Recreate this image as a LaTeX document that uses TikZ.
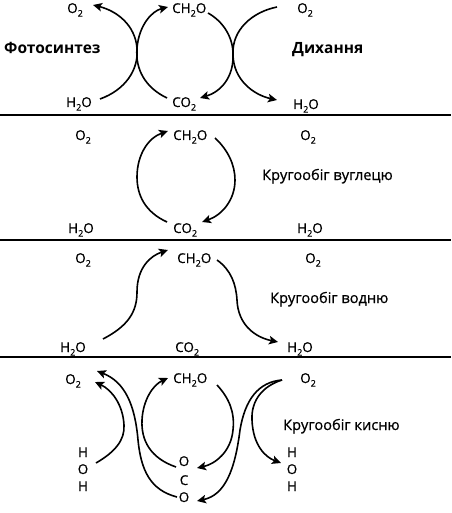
\documentclass[tikz,border=0pt]{standalone}
\usepackage{fontspec}
\setmainfont{Open Sans}
\newfontfamily\semib[FakeBold=0.7]{Open Sans}
\usetikzlibrary{arrows.meta}
\newcommand{\sbs}[1]{\raisebox{-0.5ex}{\fontsize{9}{9}\selectfont #1}}
\tikzset{
  chem/.style={anchor=base west, inner sep=0pt, font=\semib\fontsize{13.5}{14}\selectfont},
  lbl/.style={anchor=base west, inner sep=0pt, font=\semib\fontsize{14.6}{15}\selectfont},
  blbl/.style={anchor=base west, inner sep=0pt, font=\fontsize{15.5}{16}\selectfont\bfseries},
  stk/.style={anchor=base, inner sep=0pt, font=\semib\fontsize{13.5}{14}\selectfont},
  arr/.style={line width=1.6pt, -{Stealth[length=9pt,width=8.5pt,inset=2pt]}},
  sep/.style={line width=2.4pt}
}
\begin{document}
\begin{tikzpicture}[x=1pt,y=-1pt]
\useasboundingbox (0,0) rectangle (451,513);
% separators
\draw[sep] (0,115) -- (451,115);
\draw[sep] (0,240) -- (451,240);
\draw[sep] (0,357) -- (451,357);

% ---------- panel 1 ----------
\node[chem] (o2a) at (67,13) {O\sbs{2}};
\node[chem] (ch2oa) at (172,13) {CH\sbs{2}O};
\node[chem] (o2b) at (297,13) {O\sbs{2}};
\node[blbl] (foto) at (4,54) {Фотосинтез};
\node[blbl] (dykh) at (292,54) {Дихання};
\node[chem] (h2oa) at (66,107) {H\sbs{2}O};
\node[chem] (co2a) at (172,107) {CO\sbs{2}};
\node[chem] (h2ob) at (293,109) {H\sbs{2}O};
\coordinate (p1a) at (100,99);  \coordinate (p1b) at (93,5);
\coordinate (p1c) at (167,98);  \coordinate (p1d) at (168,7);
\coordinate (p1e) at (277,7);   \coordinate (p1f) at (200,98);
\coordinate (p1g) at (208,13);  \coordinate (p1h) at (277,100);
\draw[arr] (p1a) .. controls (125,90) and (139,70) .. (137,48) .. controls (135,25) and (117,11) .. (p1b);
\draw[arr] (p1c) .. controls (146,88) and (135,70) .. (137,48) .. controls (139,25) and (152,11) .. (p1d);
\draw[arr] (p1e) .. controls (252,12) and (232,30) .. (233,54) .. controls (234,78) and (220,92) .. (p1f);
\draw[arr] (p1g) .. controls (224,22) and (233,38) .. (233,54) .. controls (233,80) and (254,95) .. (p1h);

% ---------- panel 2 ----------
\node[chem] (o2c) at (75,140) {O\sbs{2}};
\node[chem] (ch2ob) at (173,140) {CH\sbs{2}O};
\node[chem] (o2d) at (300,140) {O\sbs{2}};
\node[lbl] (carb) at (262,180) {Кругообіг вуглецю};
\node[chem] (h2oc) at (68,233) {H\sbs{2}O};
\node[chem] (co2b) at (173,233) {CO\sbs{2}};
\node[chem] (h2od) at (297,233) {H\sbs{2}O};
\coordinate (p2a) at (167,222); \coordinate (p2b) at (168,131);
\coordinate (p2c) at (215,138); \coordinate (p2d) at (202,222);
\draw[arr] (p2a) .. controls (145,212) and (137,195) .. (137,177) .. controls (137,155) and (148,138) .. (p2b);
\draw[arr] (p2c) .. controls (228,150) and (235,165) .. (235,180) .. controls (235,200) and (222,215) .. (p2d);

% ---------- panel 3 ----------
\node[chem] (o2e) at (75,263) {O\sbs{2}};
\node[chem] (ch2oc) at (177,263) {CH\sbs{2}O};
\node[chem] (o2f) at (305,263) {O\sbs{2}};
\node[lbl] (hydr) at (270,303) {Кругообіг водню};
\node[chem] (h2oe) at (60,352) {H\sbs{2}O};
\node[chem] (co2c) at (175,352) {CO\sbs{2}};
\node[chem] (h2of) at (287,352) {H\sbs{2}O};
\coordinate (p3a) at (103,339); \coordinate (p3b) at (168,250);
\coordinate (p3c) at (217,260); \coordinate (p3d) at (278,342);
\draw[arr] (p3a) .. controls (128,326) and (137,312) .. (137,292) .. controls (137,268) and (150,256) .. (p3b);
\draw[arr] (p3c) .. controls (231,270) and (236,284) .. (237,300) .. controls (238,324) and (254,337) .. (p3d);

% ---------- panel 4 ----------
\node[chem] (o2g) at (65,384) {O\sbs{2}};
\node[chem] (ch2od) at (173,383) {CH\sbs{2}O};
\node[chem] (o2h) at (300,383) {O\sbs{2}};
\node[lbl] (oxy) at (283,430) {Кругообіг кисню};
\node[stk] (hl1) at (83,457) {H};
\node[stk] (ol1) at (83,474) {O};
\node[stk] (hl2) at (83,491) {H};
\node[stk] (hr1) at (292,457) {H};
\node[stk] (or1) at (292,474) {O};
\node[stk] (hr2) at (292,491) {H};
\node[stk] (oc1) at (184,466) {O};
\node[stk] (cc1) at (184,485) {C};
\node[stk] (oc2) at (184,502) {O};
\coordinate (p4a) at (96,463);  \coordinate (p4b) at (95,382);
\coordinate (p4c) at (177,497); \coordinate (p4d) at (97,371);
\coordinate (p4e) at (176,467); \coordinate (p4f) at (168,378);
\coordinate (p4g) at (217,385); \coordinate (p4h) at (197,468);
\coordinate (p4t) at (282,380);
\coordinate (p4i) at (197,501); \coordinate (p4j) at (281,463);
\draw[arr] (p4a) .. controls (115,452) and (125,440) .. (124,425) .. controls (123,405) and (112,390) .. (p4b);
\draw[arr] (p4c) .. controls (150,490) and (141,470) .. (138,440) .. controls (135,405) and (125,382) .. (p4d);
\draw[arr] (p4e) .. controls (150,458) and (141,440) .. (142,420) .. controls (143,400) and (153,385) .. (p4f);
\draw[arr] (p4g) .. controls (229,398) and (235,412) .. (233,430) .. controls (231,452) and (215,464) .. (p4h);
\draw[arr] (p4t) .. controls (258,382) and (245,400) .. (240,430) .. controls (235,470) and (225,495) .. (p4i);
\draw[arr] (p4t) .. controls (263,386) and (251,400) .. (252,420) .. controls (253,445) and (265,457) .. (p4j);
\end{tikzpicture}
\end{document}
